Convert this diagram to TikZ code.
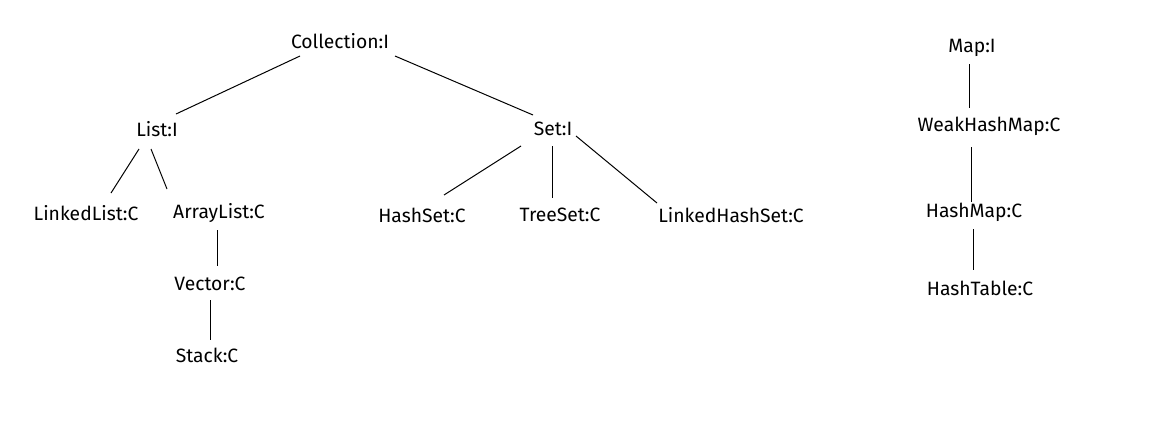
\documentclass[tikz,border=0pt]{standalone}
\usepackage{fontspec}
\setmainfont{Fira Sans}[Scale=1]
\usetikzlibrary{calc}
\begin{document}
\begin{tikzpicture}[x=1pt,y=-1pt,
  lbl/.style={inner sep=0pt,font=\fontsize{19.3}{22}\selectfont},
  edge/.style={line width=1pt,black}]
\useasboundingbox (0,0) rectangle (1172,424);
\node[lbl] (coll) at (340,41) {Collection:I};
\node[lbl] (list) at (157,129) {List:I};
\node[lbl] (set) at (553,129) {Set:I};
\node[lbl] (ll) at (86,213) {LinkedList:C};
\node[lbl] (al) at (219,213) {ArrayList:C};
\node[lbl] (hs) at (422,215) {HashSet:C};
\node[lbl] (ts) at (560,215) {TreeSet:C};
\node[lbl] (lhs) at (731,215) {LinkedHashSet:C};
\node[lbl] (vec) at (210,284) {Vector:C};
\node[lbl] (stk) at (207,355) {Stack:C};
\node[lbl] (map) at (972,48) {Map:I};
\node[lbl] (whm) at (989,126) {WeakHashMap:C};
\node[lbl] (hm) at (974,212) {HashMap:C};
\node[lbl] (ht) at (980,288) {HashTable:C};
\draw[edge] ($(coll)+(-40,15)$) -- ($(list)+(19,-15)$);
\draw[edge] ($(coll)+(55,15)$) -- ($(set)+(-20,-14)$);
\draw[edge] ($(list)+(-18,20)$) -- ($(ll)+(25,-20)$);
\draw[edge] ($(list)+(-6,20)$) -- ($(al)+(-52,-24)$);
\draw[edge] ($(set)+(-32,17)$) -- ($(hs)+(22,-20)$);
\draw[edge] ($(set)+(-1,17)$) -- ($(ts)+(-8,-17)$);
\draw[edge] ($(set)+(23,7)$) -- ($(lhs)+(-74,-12)$);
\draw[edge] ($(al)+(-2,17)$) -- ($(vec)+(7,-18)$);
\draw[edge] ($(vec)+(0,16)$) -- ($(stk)+(3,-15)$);
\draw[edge] ($(map)+(-3,16)$) -- ($(whm)+(-20,-18)$);
\draw[edge] ($(whm)+(-18,21)$) -- ($(hm)+(-3,-10)$);
\draw[edge] ($(hm)+(-1,17)$) -- ($(ht)+(-7,-18)$);
\end{tikzpicture}
\end{document}
